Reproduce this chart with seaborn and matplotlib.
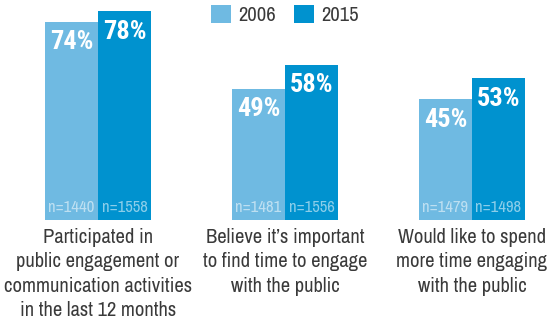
import matplotlib
matplotlib.use("Agg")
import matplotlib.pyplot as plt
import seaborn as sns
import pandas as pd
from matplotlib.patches import Patch

categories = [
    "Participated in\npublic engagement or\ncommunication activities\nin the last 12 months",
    "Believe it\u2019s important\nto find time to engage\nwith the public",
    "Would like to spend\nmore time engaging\nwith the public",
]
years = ["2006", "2015"]
values_2006 = [74, 49, 45]
values_2015 = [78, 58, 53]
n_2006 = [1440, 1481, 1479]
n_2015 = [1558, 1556, 1498]

colors = {"2006": "#6fbae2", "2015": "#0092cf"}

rows = []
for i, c in enumerate(categories):
    rows.append({"cat": c, "year": "2006", "val": values_2006[i], "n": n_2006[i]})
    rows.append({"cat": c, "year": "2015", "val": values_2015[i], "n": n_2015[i]})
df = pd.DataFrame(rows)

sns.set_theme(style="white")
font = ["Archivo Narrow", "Roboto Condensed", "DejaVu Sans"]
plt.rcParams["font.family"] = font

fig = plt.figure(figsize=(5.56, 3.21), dpi=100)
ax = fig.add_axes([0, (321 - 220) / 321, 1, 220 / 321])

sns.barplot(data=df, x="cat", y="val", hue="year", hue_order=years,
            palette=colors, width=0.567, saturation=1, ax=ax, legend=False,
            linewidth=0, errorbar=None)

ax.set_xlim(-98 / 187, (556 - 98) / 187)
ax.set_ylim(0, 220 / 2.68)
for s in ax.spines.values():
    s.set_visible(False)
ax.set_yticks([])
ax.set_xlabel("")
ax.set_ylabel("")
ax.tick_params(axis="x", length=0, pad=6)
ax.set_xticks(range(len(categories)))
ax.set_xticklabels(categories, fontsize=14.8, color="#3a3a3a", linespacing=1.34)

ns = [n_2006, n_2015]
for k, cont in enumerate(ax.containers):
    for j, bar in enumerate(cont):
        cx = bar.get_x() + bar.get_width() / 2
        h = bar.get_height()
        ax.text(cx, h - 3.2, f"{int(h)}%", ha="center", va="top",
                color="white", fontsize=19, fontweight="bold",
                family=["Roboto Condensed", "DejaVu Sans"])
        ax.text(cx, 3.0, f"n={ns[k][j]}", ha="center", va="baseline",
                color="white", alpha=0.55, fontsize=12)

handles = [Patch(facecolor=colors[y], edgecolor="none") for y in years]
fig.legend(handles, years, loc="upper center", bbox_to_anchor=(0.512, 0.985),
           ncol=2, frameon=False, fontsize=14.8, handlelength=0.95,
           handleheight=0.95, handletextpad=0.35, columnspacing=0.9,
           borderpad=0.0, borderaxespad=0.0, labelcolor="#3a3a3a")

fig.savefig("out.png", dpi=100)
